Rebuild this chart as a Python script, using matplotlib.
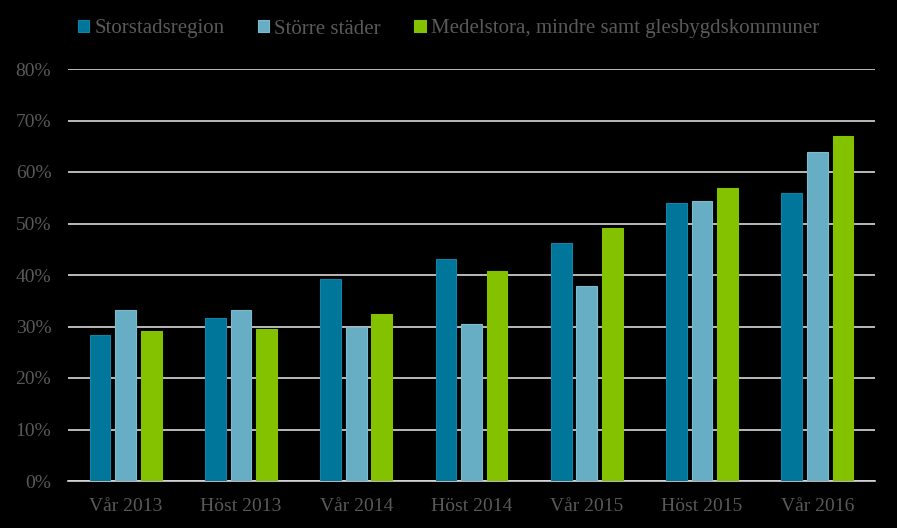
import matplotlib.pyplot as plt
import numpy as np

categories = ['Vår 2013', 'Höst 2013', 'Vår 2014', 'Höst 2014', 'Vår 2015', 'Höst 2015', 'Vår 2016']
series_names = ['Storstadsregion', 'Större städer', 'Medelstora, mindre samt glesbygdskommuner']
storstad = [28.3, 31.6, 39.2, 43.1, 46.2, 53.9, 55.9]
storre = [33.3, 33.3, 29.9, 30.5, 37.9, 54.4, 63.8]
medel = [29.1, 29.5, 32.4, 40.8, 49.1, 56.9, 67.0]

colors = ['#00769A', '#67AEC4', '#84C200']
edges = ['#1283A6', '#7DBBCF', '#84C200']
text_color = '#595959'

plt.rcParams['font.family'] = ['Liberation Serif', 'DejaVu Serif']

fig = plt.figure(figsize=(8.97, 5.28), dpi=100, facecolor='black')
ax = fig.add_axes([68 / 897, 47 / 528, 807 / 897, 412 / 528])
ax.set_facecolor('black')

x = np.arange(len(categories))
offset = 0.222
width = 0.18
for i, vals in enumerate([storstad, storre, medel]):
    ax.bar(x + (i - 1) * offset, vals, width, color=colors[i], edgecolor=edges[i],
           linewidth=0.8, label=series_names[i], zorder=3)

ax.set_xlim(-0.5, 6.5)
ax.set_ylim(0, 80)
ax.set_yticks(np.arange(0, 81, 10))
ax.set_yticklabels([f'{v}%' for v in range(0, 81, 10)])
ax.set_xticks(x)
ax.set_xticklabels(categories)
ax.yaxis.grid(True, color='#D9D9D9', linewidth=1.2, zorder=0)
ax.tick_params(colors=text_color, labelsize=14, length=0)
ax.tick_params(axis='x', pad=12)
ax.tick_params(axis='y', pad=12)
for s in ['top', 'right', 'left']:
    ax.spines[s].set_visible(False)
ax.spines['bottom'].set_color('#D9D9D9')
ax.spines['bottom'].set_linewidth(1.2)

leg = fig.legend(loc='center', bbox_to_anchor=(0.5, 1 - 29 / 528), ncol=3, frameon=False,
                 fontsize=15, handlelength=0.55, handleheight=0.55, handletextpad=0.25,
                 columnspacing=1.6, labelcolor=text_color)

fig.savefig('out.png', dpi=100, facecolor='black')
